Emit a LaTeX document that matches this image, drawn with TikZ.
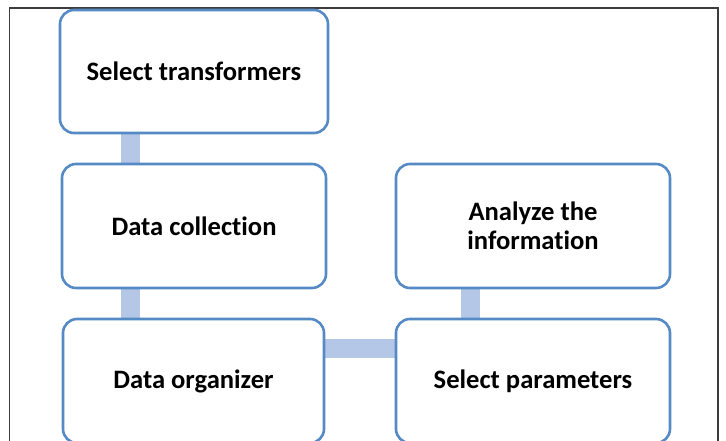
\documentclass[tikz,border=0pt]{standalone}
\usepackage{fontspec}
\setmainfont{Carlito}[Ligatures=NoCommon]
\usetikzlibrary{backgrounds}
\definecolor{boxblue}{RGB}{86,138,196}
\definecolor{linkblue}{RGB}{180,199,231}
\definecolor{framegray}{RGB}{60,60,60}
\tikzset{
  stepbox/.style={draw=boxblue, line width=2.6pt, fill=white, rounded corners=14pt,
    font=\fontsize{26.6}{28.5}\selectfont\bfseries, align=center, inner sep=0pt},
  link/.style={draw=linkblue, line width=19pt}
}
\begin{document}
\begin{tikzpicture}[x=1pt,y=-1pt]
\useasboundingbox (0,0) rectangle (726,441);
\draw[framegray, line width=1.2pt] (9.5,441) -- (9.5,8) -- (718,8) -- (718,441);
\node[stepbox, minimum width=268pt, minimum height=123pt] (b1) at (194,71.5) {Select transformers};
\node[stepbox, minimum width=264pt, minimum height=124pt] (b2) at (194,226) {Data collection};
\node[stepbox, minimum width=261pt, minimum height=124pt] (b3) at (193.5,381) {Data organizer};
\node[stepbox, minimum width=274pt, minimum height=124pt] (b4) at (533,226) {Analyze the\\information};
\node[stepbox, minimum width=274pt, minimum height=124pt] (b5) at (533,381) {Select parameters};
\begin{scope}[on background layer]
\draw[link] ([xshift=72pt]b1.south west) -- ([xshift=70pt]b2.north west);
\draw[link] ([xshift=70pt]b2.south west) -- ([xshift=69pt]b3.north west);
\draw[link] ([xshift=76pt]b4.south west) -- ([xshift=76pt]b5.north west);
\draw[link] ([yshift=-31pt]b3.north east) -- ([yshift=-31pt]b5.north west);
\end{scope}
\end{tikzpicture}
\end{document}
